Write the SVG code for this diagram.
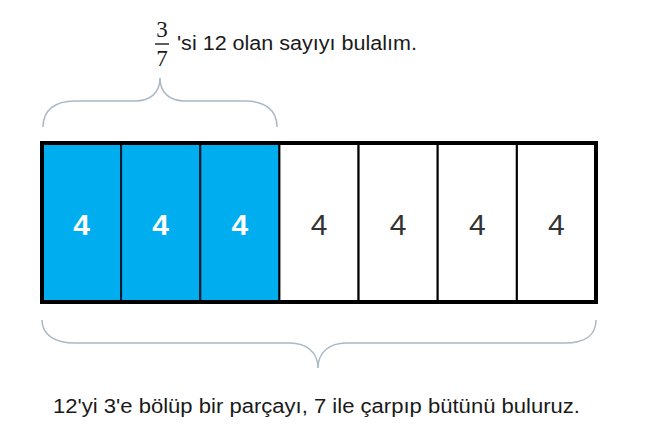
<svg xmlns="http://www.w3.org/2000/svg" width="650" height="424" viewBox="0 0 650 424">
<style>
.t{font-family:"Liberation Sans",Arial,sans-serif;fill:#1a1a1a}
.f{font-family:"Liberation Serif","Times New Roman",serif;fill:#1a1a1a;font-size:23px;text-anchor:middle}
.nb{font-family:"Liberation Sans",Arial,sans-serif;font-size:30px;font-weight:bold;fill:#fff;text-anchor:middle}
.nw{font-family:"Liberation Sans",Arial,sans-serif;font-size:30px;fill:#333;text-anchor:middle}
.blue{fill:#00AEEF;stroke:#0a1a2e;stroke-width:2}
.white{fill:#fff;stroke:#000;stroke-width:2}
.brace{fill:none;stroke:#a9b8c4;stroke-width:1.5}
</style>
<rect width="650" height="424" fill="#fff"/>
<g id="title">
<text class="f" x="162" y="37">3</text>
<line x1="155" y1="44" x2="169" y2="44" stroke="#1a1a1a" stroke-width="1.4"/>
<text class="f" x="162" y="66">7</text>
<text class="t" x="177" y="50" font-size="20" textLength="240" lengthAdjust="spacingAndGlyphs">'si 12 olan sayıyı bulalım.</text>
</g>
<g id="connectors">
<path class="brace" d="M43,127 C43,110 55,101 75,101 L135,101 C150,101 160,93 160,78 C160,93 170,101 185,101 L245,101 C265,101 277,110 277,127"/>
<path class="brace" d="M42,320 C42,335 55,343 75,343 L290,343 C306,343 318,352 318,368 C318,352 330,343 346,343 L565,343 C585,343 596,335 596,320"/>
</g>
<g id="cell1"><rect class="blue" x="42" y="143" width="79.1" height="159"/><text class="nb" x="81.6" y="235">4</text></g>
<g id="cell2"><rect class="blue" x="121.1" y="143" width="79.1" height="159"/><text class="nb" x="160.7" y="235">4</text></g>
<g id="cell3"><rect class="blue" x="200.3" y="143" width="79.1" height="159"/><text class="nb" x="239.9" y="235">4</text></g>
<g id="cell4"><rect class="white" x="279.4" y="143" width="79.1" height="159"/><text class="nw" x="319" y="235">4</text></g>
<g id="cell5"><rect class="white" x="358.6" y="143" width="79.1" height="159"/><text class="nw" x="398.1" y="235">4</text></g>
<g id="cell6"><rect class="white" x="437.7" y="143" width="79.1" height="159"/><text class="nw" x="477.3" y="235">4</text></g>
<g id="cell7"><rect class="white" x="516.9" y="143" width="79.1" height="159"/><text class="nw" x="556.4" y="235">4</text></g>
<g id="frame"><rect x="42" y="143" width="554" height="159" fill="none" stroke="#000" stroke-width="4"/></g>
<g id="caption">
<text class="t" x="53" y="413" font-size="20" textLength="527" lengthAdjust="spacingAndGlyphs">12'yi 3'e bölüp bir parçayı, 7 ile çarpıp bütünü buluruz.</text>
</g>
</svg>
